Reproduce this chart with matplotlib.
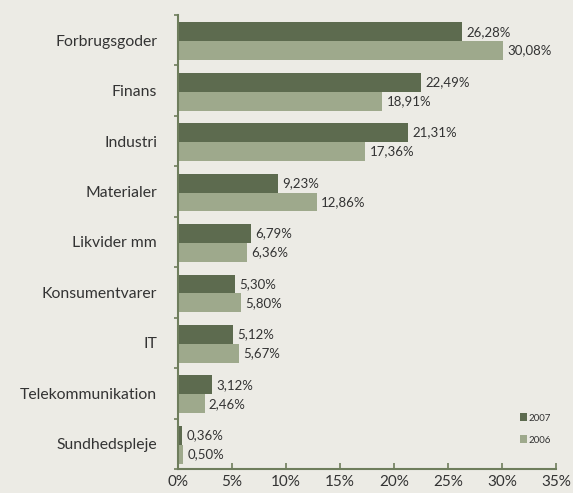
import numpy as np
import matplotlib.pyplot as plt
from matplotlib.ticker import MultipleLocator, FixedLocator

plt.rcParams['font.family'] = ['Lato', 'DejaVu Sans']

categories = ["Forbrugsgoder", "Finans", "Industri", "Materialer", "Likvider mm",
              "Konsumentvarer", "IT", "Telekommunikation", "Sundhedspleje"]
v2007 = [26.28, 22.49, 21.31, 9.23, 6.79, 5.30, 5.12, 3.12, 0.36]
v2006 = [30.08, 18.91, 17.36, 12.86, 6.36, 5.80, 5.67, 2.46, 0.50]

bg = '#ECEBE5'
dark = '#5D6B4F'
light = '#9EA98C'
axcol = '#6E7D5C'
txt = '#333333'

fig = plt.figure(figsize=(5.73, 4.93), dpi=100, facecolor=bg)
ax = fig.add_axes([0.3106, 0.0487, 0.6597, 0.921])
ax.set_facecolor(bg)

y = np.arange(len(categories))
h = 0.375
b1 = ax.barh(y - h / 2 + 0.02, v2007, height=h, color=dark, label='2007')
b2 = ax.barh(y + h / 2 + 0.02, v2006, height=h, color=light, label='2006')

for bars, vals in [(b1, v2007), (b2, v2006)]:
    for bar, v in zip(bars, vals):
        ax.text(v + 0.4, bar.get_y() + bar.get_height() / 2,
                f"{v:.2f}%".replace('.', ','), va='center', ha='left',
                fontsize=9.5, color=txt)

ax.set_ylim(len(categories) - 0.5, -0.5)
ax.set_xlim(0, 35)
ax.set_yticks(y)
ax.set_yticklabels(categories, fontsize=11.3, color=txt)
ax.yaxis.set_minor_locator(FixedLocator(np.arange(-0.5, len(categories), 1)))
ax.tick_params(axis='y', which='major', length=0, pad=15)
ax.tick_params(axis='y', which='minor', length=3, width=1.2, color=axcol, direction='out')

ax.xaxis.set_major_locator(MultipleLocator(5))
ax.set_xticklabels([f"{int(t)}%" for t in ax.get_xticks()], fontsize=11, color=txt)
ax.tick_params(axis='x', length=4, width=1.2, color=axcol, direction='in', pad=4)

for s in ['top', 'right']:
    ax.spines[s].set_visible(False)
for s in ['left', 'bottom']:
    ax.spines[s].set_color(axcol)
    ax.spines[s].set_linewidth(1.5)

leg = ax.legend(loc='lower right', bbox_to_anchor=(1.01, 0.034), frameon=False,
                fontsize=7, handlelength=0.7, handleheight=0.9, handletextpad=0.2,
                labelspacing=1.3)
for t in leg.get_texts():
    t.set_color(txt)

fig.savefig('out.png', dpi=100, facecolor=bg)
